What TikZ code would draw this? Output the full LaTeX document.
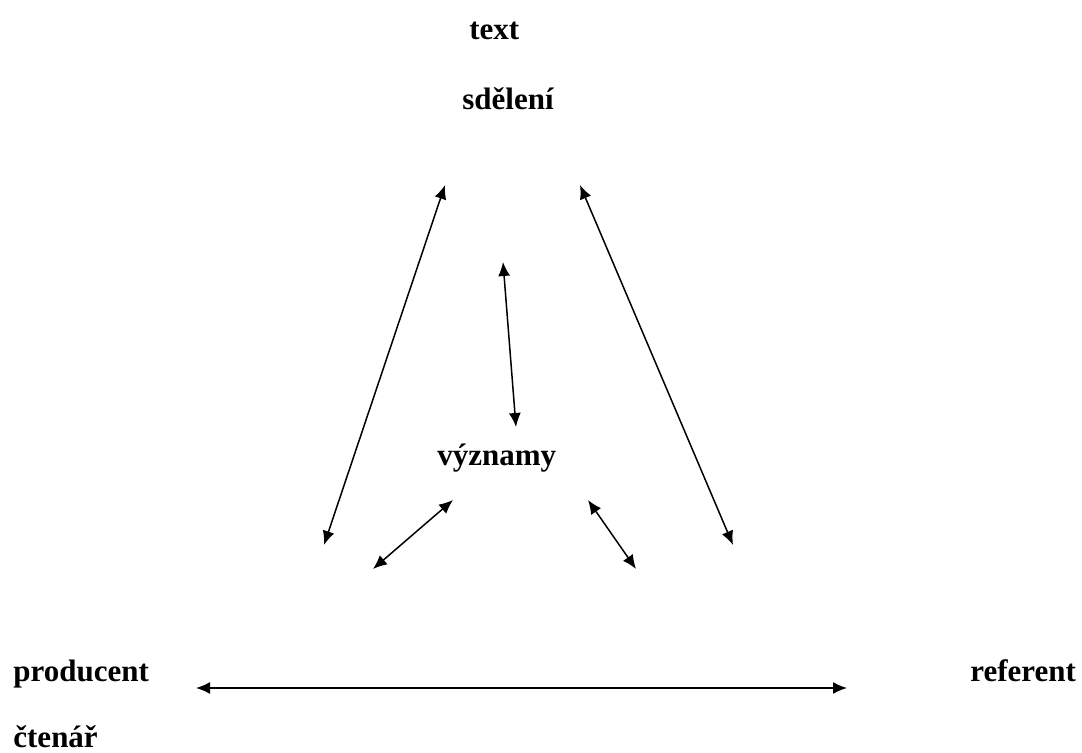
\documentclass[tikz,border=0pt]{standalone}
\usepackage{fontspec}
\setmainfont{Liberation Serif}
\usetikzlibrary{arrows.meta}
\tikzset{
  word/.style={anchor=base west,font=\fontsize{15.5}{18}\selectfont\bfseries,inner sep=0},
  link/.style={{Latex[length=7pt,width=6pt]}-{Latex[length=7pt,width=6pt]},line width=0.75pt}
}
\begin{document}
\begin{tikzpicture}[x=0.5pt,y=-0.5pt]
  \useasboundingbox (0,0) rectangle (1082,753);
  \node[word] (text) at (469,40) {text};
  \node[word] (sdeleni) at (462,110) {sdělení};
  \node[word] (vyznamy) at (437,466) {významy};
  \node[word] (producent) at (13,681) {producent};
  \node[word] (ctenar) at (13,747) {čtenář};
  \node[word] (referent) at (970,681) {referent};
  \coordinate (lt) at (445,185);
  \coordinate (lb) at (324,545);
  \coordinate (rt) at (580,185);
  \coordinate (rb) at (733,545);
  \coordinate (mt) at (503,262);
  \coordinate (mb) at (516,427);
  \coordinate (vl) at (453,500);
  \coordinate (pl) at (373,569);
  \coordinate (vr) at (588,500);
  \coordinate (pr) at (636,569);
  \coordinate (hl) at (196,688);
  \coordinate (hr) at (847,688);
  \draw[link] (lt) -- (lb);
  \draw[link] (rt) -- (rb);
  \draw[link] (mt) -- (mb);
  \draw[link] (vl) -- (pl);
  \draw[link] (vr) -- (pr);
  \draw[link] (hl) -- (hr);
\end{tikzpicture}
\end{document}
